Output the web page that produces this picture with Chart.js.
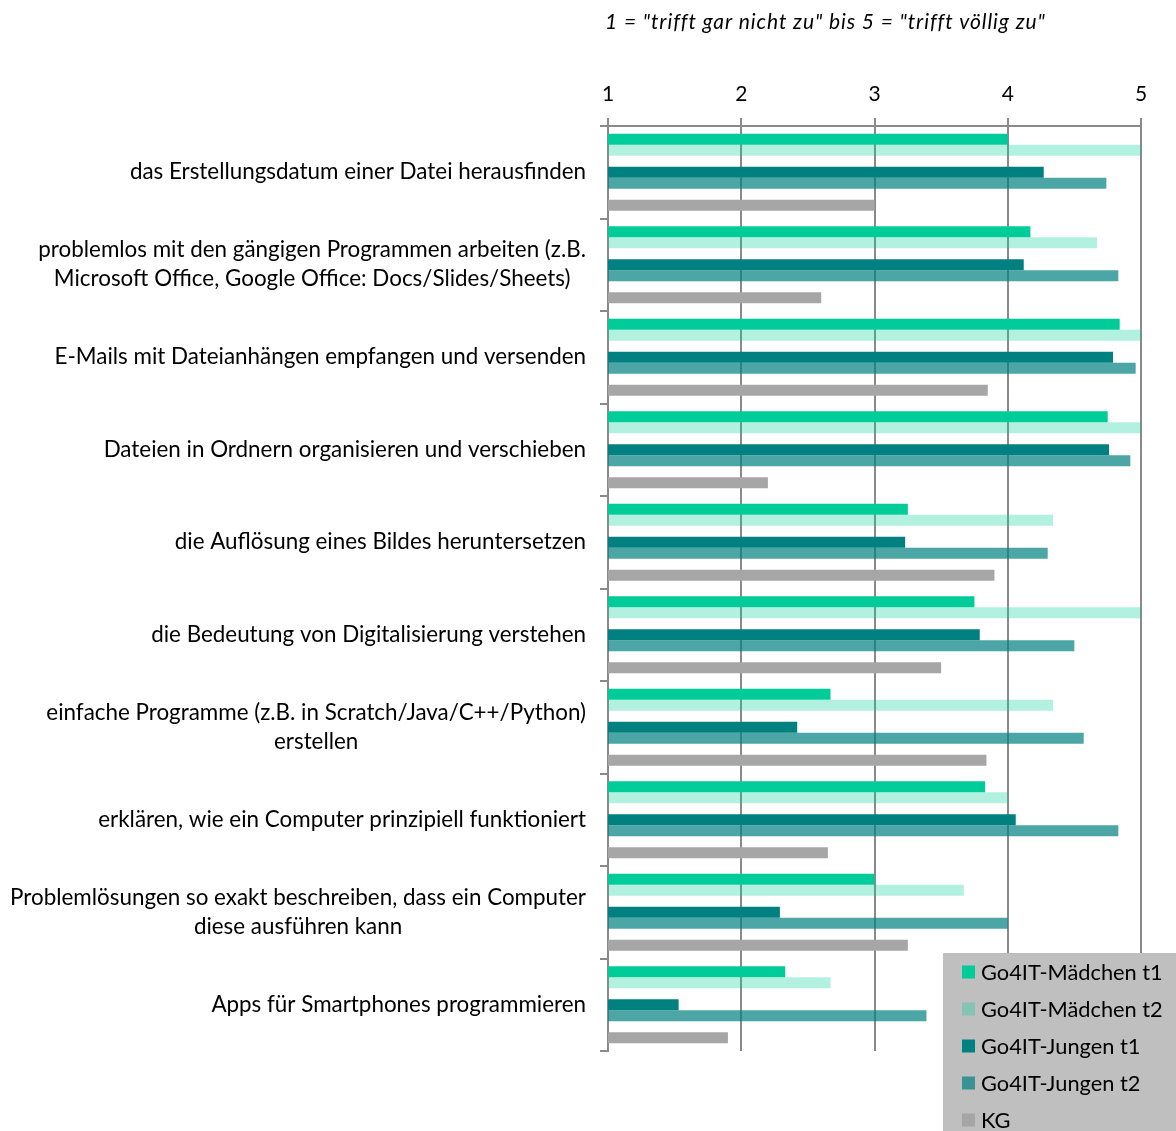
<!DOCTYPE html>
<html><head><meta charset="utf-8">
<script src="https://cdn.jsdelivr.net/npm/chart.js@4/dist/chart.umd.min.js"></script>
<style>html,body{margin:0;padding:0;background:#fff;overflow:hidden;}</style>
</head><body>
<canvas id="c" width="1176" height="1131"></canvas>
<script>
const categories = [
  ['das Erstellungsdatum einer Datei herausfinden'],
  ['problemlos mit den gängigen Programmen arbeiten (z.B.', 'Microsoft Office, Google Office: Docs/Slides/Sheets)'],
  ['E-Mails mit Dateianhängen empfangen und versenden'],
  ['Dateien in Ordnern organisieren und verschieben'],
  ['die Auflösung eines Bildes heruntersetzen'],
  ['die Bedeutung von Digitalisierung verstehen'],
  ['einfache Programme (z.B. in Scratch/Java/C++/Python)', 'erstellen'],
  ['erklären, wie ein Computer prinzipiell funktioniert'],
  ['Problemlösungen so exakt beschreiben, dass ein Computer', 'diese ausführen kann'],
  ['Apps für Smartphones programmieren']
];
const maedchenT1 = [4.00, 4.17, 4.84, 4.75, 3.25, 3.75, 2.67, 3.83, 3.00, 2.33];
const maedchenT2 = [5.00, 4.67, 5.00, 5.00, 4.34, 5.00, 4.34, 4.00, 3.67, 2.67];
const jungenT1   = [4.27, 4.12, 4.79, 4.76, 3.23, 3.79, 2.42, 4.06, 2.29, 1.53];
const jungenT2   = [4.74, 4.83, 4.96, 4.92, 4.30, 4.50, 4.57, 4.83, 4.00, 3.39];
const kg         = [3.00, 2.60, 3.85, 2.20, 3.90, 3.50, 3.84, 2.65, 3.25, 1.90];
const seriesNames = ['Go4IT-Mädchen t1', 'Go4IT-Mädchen t2', 'Go4IT-Jungen t1', 'Go4IT-Jungen t2', 'KG'];
const titleText = '1 = "trifft gar nicht zu" bis 5 = "trifft völlig zu"';
const scaleMin = 1, scaleMax = 5;

const colors = ['#00CC99', 'rgba(0,204,153,0.3)', '#008080', 'rgba(0,128,128,0.7)', '#A6A6A6'];
const empty = categories.map(() => null);

const FONT = 'Lato';
Chart.defaults.font.family = FONT;
Chart.defaults.color = '#000';

const ds = (label, data, color, show) => ({label, data, backgroundColor: color, borderWidth: 0, showInLegend: show});
const datasets = [
  ds(seriesNames[0], maedchenT1, colors[0], true),
  ds(seriesNames[1], maedchenT2, colors[1], true),
  ds('', empty, 'rgba(0,0,0,0)', false),
  ds(seriesNames[2], jungenT1, colors[2], true),
  ds(seriesNames[3], jungenT2, colors[3], true),
  ds('', empty, 'rgba(0,0,0,0)', false),
  ds(seriesNames[4], kg, colors[4], true)
];

const customDraw = {
  id: 'customDraw',
  afterDraw(chart) {
    const ctx = chart.ctx;
    const ys = chart.scales.y;
    const area = chart.chartArea;
    ctx.save();
    // category labels
    ctx.fillStyle = '#000';
    ctx.font = '22.4px ' + FONT;
    ctx.textBaseline = 'middle';
    ctx.textAlign = 'center';
    const lh = 29;
    chart.data.labels.forEach((lines, i) => {
      const cy = ys.getPixelForValue(i);
      const w = Math.max(...lines.map(l => ctx.measureText(l).width));
      const cx = area.left - 22 - w / 2;
      const y0 = cy - (lines.length - 1) * lh / 2;
      lines.forEach((l, k) => ctx.fillText(l, cx, y0 + k * lh));
    });
    // title
    ctx.font = 'italic 21px ' + FONT;
    ctx.textAlign = 'left';
    if ('letterSpacing' in ctx) ctx.letterSpacing = '0.9px';
    ctx.fillText(titleText, 605, 22);
    if ('letterSpacing' in ctx) ctx.letterSpacing = '0px';
    // legend
    const lx = 943, ly = 953;
    ctx.fillStyle = '#BFBFBF';
    ctx.fillRect(lx, ly, chart.width - lx, chart.height - ly);
    ctx.font = '21.8px ' + FONT;
    const items = chart.data.datasets.filter(d => d.showInLegend);
    items.forEach((d, k) => {
      const cy = 972 + k * 37;
      ctx.fillStyle = d.backgroundColor;
      ctx.fillRect(962, cy - 6.5, 13, 13);
      ctx.fillStyle = '#000';
      ctx.fillText(d.label, 981, cy + 1);
    });
    ctx.restore();
  }
};

new Chart(document.getElementById('c'), {
  type: 'bar',
  data: {labels: categories, datasets},
  options: {
    indexAxis: 'y',
    responsive: false,
    animation: false,
    devicePixelRatio: 1,
    layout: {padding: {left: 600, right: 35, top: 0, bottom: 80}},
    datasets: {bar: {categoryPercentage: 0.83, barPercentage: 1.0}},
    plugins: {legend: {display: false}, tooltip: {enabled: false}, title: {display: false}},
    scales: {
      x: {
        position: 'top',
        min: scaleMin, max: scaleMax,
        ticks: {stepSize: 1, padding: 11, font: {size: 21}, color: '#000'},
        grid: {color: '#8A8A8A', lineWidth: 2, tickLength: 8, drawTicks: true},
        border: {display: true, color: '#8A8A8A', width: 2},
        afterFit(s) { s.height = 126; }
      },
      y: {
        ticks: {display: false},
        grid: {drawOnChartArea: false, drawTicks: true, tickLength: 8, color: '#8A8A8A', lineWidth: 2, offset: true},
        border: {display: true, color: '#8A8A8A', width: 2},
        afterFit(s) { s.width = 8; }
      }
    }
  },
  plugins: [customDraw]
});
</script>
</body></html>
